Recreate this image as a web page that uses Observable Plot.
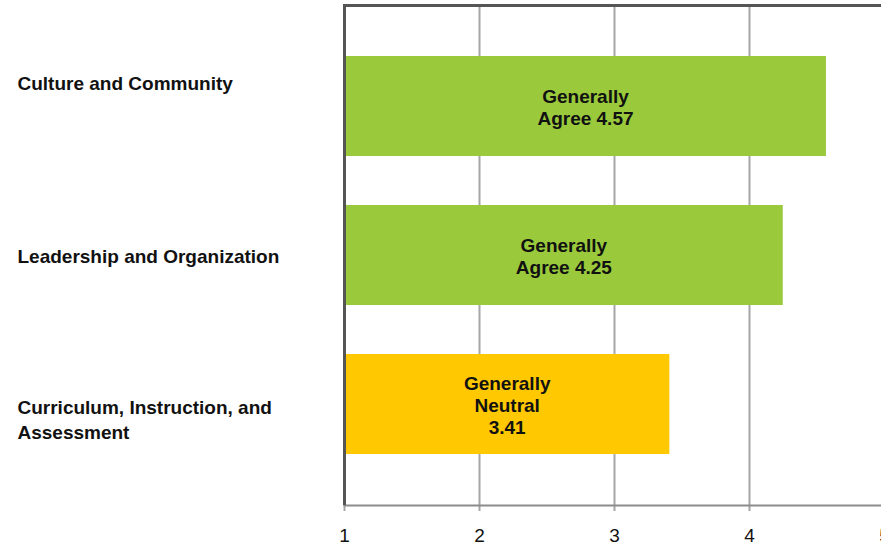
<!DOCTYPE html>
<html>
<head>
<meta charset="utf-8">
<script src="https://cdn.jsdelivr.net/npm/d3@7"></script>
<script src="https://cdn.jsdelivr.net/npm/@observablehq/plot@0.6"></script>
<style>
  html, body { margin: 0; padding: 0; background: #fff; }
  #chart svg { display: block; }
</style>
</head>
<body>
<div id="chart"></div>
<script>
const categories = [
  "Culture and Community",
  "Leadership and Organization",
  "Curriculum, Instruction, and Assessment"
];
const categoryLabels = [
  "Culture and Community",
  "Leadership and Organization",
  "Curriculum, Instruction, and\nAssessment"
];
const values = [4.57, 4.25, 3.41];
const ratings = ["Generally\nAgree", "Generally\nAgree", "Generally\nNeutral\n"];
const barColors = ["#9aca3c", "#9aca3c", "#ffc800"];
const xTicks = [1, 2, 3, 4, 5];

const data = categories.map((c, i) => ({
  category: c,
  label: categoryLabels[i],
  value: values[i],
  text: ratings[i] + (ratings[i].endsWith("\n") ? "" : " ") + values[i].toFixed(2),
  color: barColors[i]
}));

const font = "Liberation Sans, Arial, Helvetica, sans-serif";

const labelMark = (idx, dy, spacing) => Plot.text(data.filter((d, i) => i === idx), {
  y: "category",
  text: "label",
  frameAnchor: "left",
  textAnchor: "start",
  dx: -327,
  dy,
  lineHeight: 1.3,
  fontSize: 19,
  fontWeight: "bold",
  fill: "#111",
  style: spacing ? { letterSpacing: spacing } : undefined
});

const chart = Plot.plot({
  width: 881,
  height: 546,
  marginTop: 5,
  marginBottom: 41,
  marginLeft: 344,
  marginRight: 0,
  style: { fontFamily: font, color: "#111", background: "#fff", overflow: "hidden" },
  x: { domain: [1, 5], range: [344, 884], label: null },
  y: { domain: categories, paddingInner: 0.331, paddingOuter: 0.3375, axis: null },
  color: { type: "identity" },
  marks: [
    Plot.ruleX(xTicks, { stroke: "#a6a6a6", strokeWidth: 2 }),
    Plot.axisX({
      ticks: xTicks,
      label: null,
      tickSize: 6,
      tickPadding: 17,
      stroke: "#a6a6a6",
      strokeWidth: 2,
      fontSize: 19,
      fill: "#111",
      tickFormat: d => String(d)
    }),
    Plot.frame({ anchor: "bottom", stroke: "#8c8c8c", strokeWidth: 2 }),
    Plot.barX(data, {
      y: "category",
      x1: () => 1,
      x2: "value",
      fill: "color"
    }),
    Plot.text(data, {
      x: d => (1 + d.value) / 2,
      y: "category",
      text: "text",
      lineHeight: 1.16,
      fontSize: 19,
      fontWeight: "bold",
      fill: "#111"
    }),
    Plot.ruleX([xTicks[0]], { stroke: "#555", strokeWidth: 3 }),
    Plot.frame({ anchor: "top", stroke: "#555", strokeWidth: 3 }),
    labelMark(0, -24, "1px"),
    labelMark(1, 0),
    labelMark(2, 14)
  ]
});

document.getElementById("chart").appendChild(chart);
</script>
</body>
</html>
